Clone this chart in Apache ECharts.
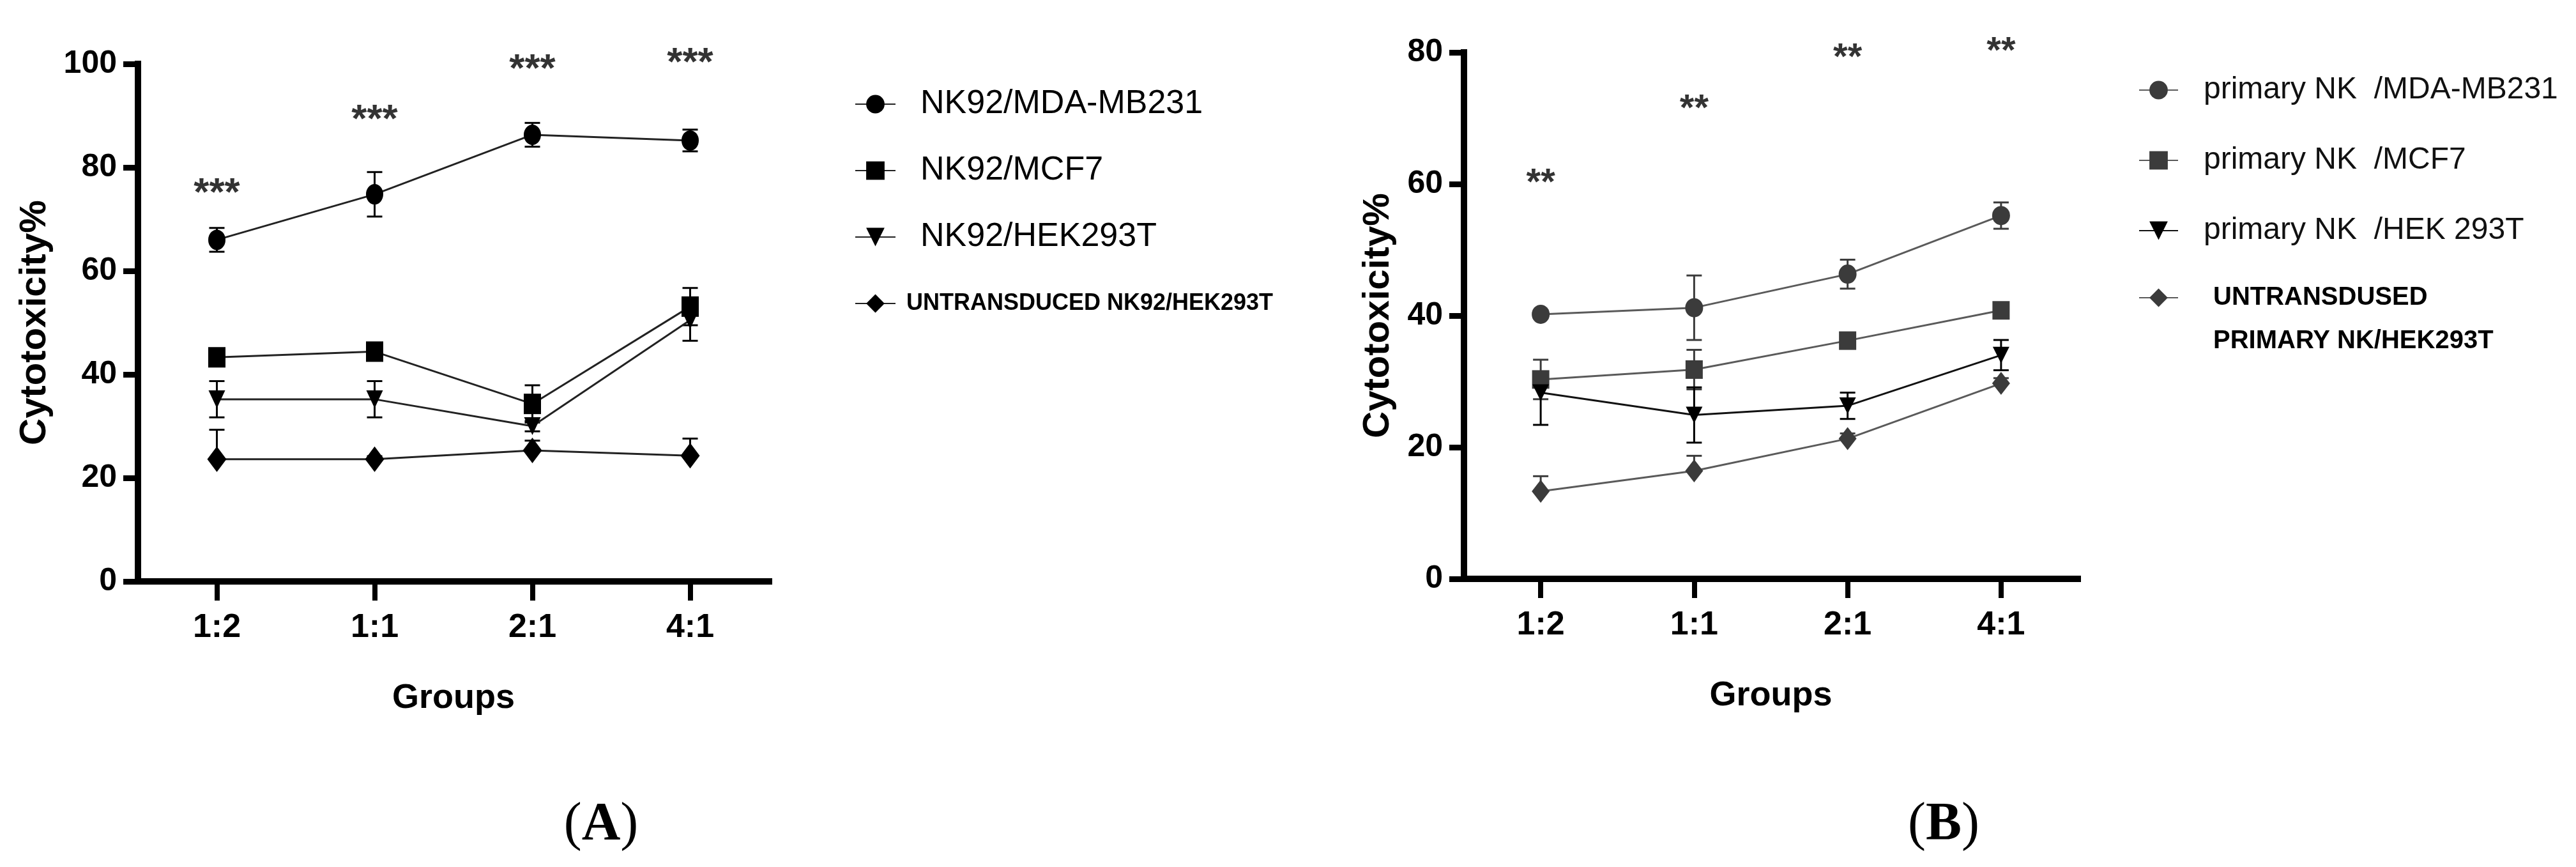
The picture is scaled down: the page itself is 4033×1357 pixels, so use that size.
<!DOCTYPE html>
<html>
<head>
<meta charset="utf-8">
<title>Cytotoxicity</title>
<script src="https://cdn.jsdelivr.net/npm/echarts@6/dist/echarts.min.js"></script>
<style>
  html, body { margin: 0; padding: 0; background: #fff; }
  #chart { width: 4033px; height: 1357px; }
</style>
</head>
<body>
<div id="chart"></div>
<script>
// effector : target ratios
const categories = ['1:2', '1:1', '2:1', '4:1']
const yTicksA = [0, 20, 40, 60, 80, 100]
const yTicksB = [0, 20, 40, 60, 80]

// panel A - NK92
const namesA = ['NK92/MDA-MB231', 'NK92/MCF7', 'NK92/HEK293T', 'UNTRANSDUCED NK92/HEK293T']
const a_mda = [66.0, 74.8, 86.3, 85.2]
const a_mda_up = [2.3, 4.3, 2.3, 2.1]
const a_mda_down = [2.3, 4.3, 2.3, 2.1]
const a_mcf7 = [43.3, 44.4, 34.3, 53.1]
const a_mcf7_up = [1.0, 0.6, 3.6, 3.6]
const a_mcf7_down = [1.0, 0.6, 3.6, 3.6]
const a_hek = [35.2, 35.2, 30.0, 50.5]
const a_hek_up = [3.5, 3.5, 1.0, 4.0]
const a_hek_down = [3.5, 3.5, 1.0, 4.0]
const a_untr = [23.6, 23.6, 25.3, 24.3]
const a_untr_up = [5.7, 0.6, 1.9, 3.3]
const a_untr_down = [0, 0, 0, 0]
const a_stars = [76.8, 91.0, 100.8, 102.0]

// panel B - primary NK
const namesB = ['primary NK  /MDA-MB231', 'primary NK  /MCF7', 'primary NK  /HEK 293T', 'UNTRANSDUSED\nPRIMARY NK/HEK293T']
const b_mda = [40.2, 41.2, 46.3, 55.2]
const b_mda_up = [0.6, 4.9, 2.2, 2.0]
const b_mda_down = [0.6, 4.9, 2.2, 2.0]
const b_mcf7 = [30.3, 31.8, 36.2, 40.8]
const b_mcf7_up = [3.0, 3.0, 0.8, 0.8]
const b_mcf7_down = [3.0, 3.0, 0.8, 0.8]
const b_hek = [28.3, 24.9, 26.3, 34.0]
const b_hek_up = [0.8, 4.2, 2.0, 2.3]
const b_hek_down = [4.9, 4.2, 2.0, 2.3]
const b_untr = [13.3, 16.4, 21.3, 29.7]
const b_untr_up = [2.3, 2.3, 0.8, 0.8]
const b_untr_down = [0, 0, 0, 0]
const b_stars = [61.5, 72.7, 80.5, 81.5]

const SANS = '"Liberation Sans", Arial, sans-serif'
const SERIF = '"Liberation Serif", "Times New Roman", serif'
const TRI_DOWN = 'path://M0,0L20,0L10,20Z'

const chart = echarts.init(document.getElementById('chart'))

// error bars drawn on the axes: [index, low, high, drawLowCap]
const errorBars = (idx, vals, up, down, color) => ({
  type: 'custom',
  xAxisIndex: idx,
  yAxisIndex: idx,
  z: 1,
  silent: true,
  clip: false,
  data: vals.map((v, i) => [i, v - down[i], v + up[i], down[i] > 0 ? 1 : 0]),
  encode: { x: 0, y: [1, 2] },
  renderItem: (params, api) => {
    const x = api.value(0)
    const lo = api.coord([x, api.value(1)])
    const hi = api.coord([x, api.value(2)])
    const half = 12
    const lines = [
      [hi[0], hi[1], lo[0], lo[1]],
      [hi[0] - half, hi[1], hi[0] + half, hi[1]]
    ]
    if (api.value(3)) lines.push([lo[0] - half, lo[1], lo[0] + half, lo[1]])
    return {
      type: 'group',
      children: lines.map(l => ({
        type: 'line',
        shape: { x1: l[0], y1: l[1], x2: l[2], y2: l[3] },
        style: { stroke: color, lineWidth: 3 }
      }))
    }
  }
})

const lineSeries = (idx, name, vals, symbol, size, color, lineColor) => ({
  type: 'line',
  name: name,
  xAxisIndex: idx,
  yAxisIndex: idx,
  data: vals,
  symbol: symbol,
  symbolSize: size,
  showSymbol: true,
  z: 3,
  itemStyle: { color: color, opacity: 1 },
  lineStyle: { color: lineColor, width: 3 },
  emphasis: { disabled: true }
})

const starSeries = (idx, vals, text, size) => ({
  type: 'scatter',
  xAxisIndex: idx,
  yAxisIndex: idx,
  data: vals.map((v, i) => [i, v]),
  symbolSize: 1,
  itemStyle: { color: 'rgba(0,0,0,0)' },
  clip: false,
  silent: true,
  z: 5,
  label: {
    show: true,
    position: 'inside',
    formatter: text,
    fontFamily: SANS,
    fontWeight: 'bold',
    fontSize: size,
    color: '#000',
    offset: [0, Math.round(size * 0.25)]
  }
})

const xAxisCfg = gridIndex => ({
  type: 'category',
  gridIndex: gridIndex,
  data: categories,
  boundaryGap: true,
  axisLine: { show: true, lineStyle: { color: '#000', width: 10, cap: 'square' } },
  axisTick: { show: true, alignWithLabel: true, length: 30, lineStyle: { color: '#000', width: 8 } },
  axisLabel: { color: '#000', fontFamily: SANS, fontWeight: 'bold', fontSize: 52, margin: 47 },
  splitLine: { show: false },
  name: 'Groups',
  nameLocation: 'middle',
  nameGap: 156,
  nameTextStyle: { color: '#000', fontFamily: SANS, fontWeight: 'bold', fontSize: 54 }
})

const yAxisCfg = (gridIndex, ticks, gap) => ({
  type: 'value',
  gridIndex: gridIndex,
  min: ticks[0],
  max: ticks[ticks.length - 1],
  interval: ticks[1] - ticks[0],
  axisLine: { show: true, lineStyle: { color: '#000', width: 10, cap: 'square' } },
  axisTick: { show: true, length: 23, lineStyle: { color: '#000', width: 9 } },
  axisLabel: { color: '#000', fontFamily: SANS, fontWeight: 'bold', fontSize: 50, margin: 33 },
  splitLine: { show: false },
  name: 'Cytotoxicity%',
  nameLocation: 'middle',
  nameRotate: 90,
  nameGap: gap,
  nameMoveOverlap: false,
  nameTextStyle: { color: '#000', fontFamily: SANS, fontWeight: 'bold', fontSize: 58 }
})

chart.setOption({
  animation: false,
  backgroundColor: '#fff',
  grid: [
    { left: 216, top: 100, width: 988, height: 810, containLabel: false, outerBoundsMode: 'none' },
    { left: 2292, top: 82, width: 961, height: 824, containLabel: false, outerBoundsMode: 'none' }
  ],
  xAxis: [xAxisCfg(0), xAxisCfg(1)],
  yAxis: [yAxisCfg(0, yTicksA, 132), yAxisCfg(1, yTicksB, 105)],
  legend: [
    {
      orient: 'vertical', left: 1338, top: 133, padding: 0,
      itemWidth: 63, itemHeight: 36, itemGap: 44, selectedMode: false,
      data: [
        { name: namesA[0] }, { name: namesA[1] }, { name: namesA[2] },
        { name: namesA[3], textStyle: { fontWeight: 'bold', fontSize: 36, padding: [0, 0, 0, 12] } }
      ],
      textStyle: { fontFamily: SANS, fontSize: 52, lineHeight: 60, color: '#000', padding: [0, 0, 0, 34] }
    },
    {
      orient: 'vertical', left: 3348, top: 108, padding: 0,
      itemWidth: 61, itemHeight: 36, itemGap: 44, selectedMode: false,
      data: namesB.slice(0, 3),
      textStyle: { fontFamily: SANS, fontSize: 48, lineHeight: 66, color: '#111', padding: [0, 0, 0, 35] }
    },
    {
      orient: 'vertical', left: 3348, top: 364, padding: 0,
      itemWidth: 61, itemHeight: 36, selectedMode: false,
      data: [namesB[3]],
      // blank first line puts the icon level with the first text line
      formatter: name => ' \n' + name,
      textStyle: { fontFamily: SANS, fontWeight: 'bold', fontSize: 40, lineHeight: 68, color: '#000', padding: [0, 0, 0, 50] }
    }
  ],
  graphic: [
    {
      type: 'text', x: 941, y: 1292,
      style: {
        text: '{p|(}{b|A}{p|)}', align: 'center', verticalAlign: 'middle',
        rich: { p: { fontFamily: SERIF, fontSize: 84, fill: '#000' }, b: { fontFamily: SERIF, fontWeight: 'bold', fontSize: 84, fill: '#000' } }
      }
    },
    {
      type: 'text', x: 3043, y: 1292,
      style: {
        text: '{p|(}{b|B}{p|)}', align: 'center', verticalAlign: 'middle',
        rich: { p: { fontFamily: SERIF, fontSize: 84, fill: '#000' }, b: { fontFamily: SERIF, fontWeight: 'bold', fontSize: 84, fill: '#000' } }
      }
    }
  ],
  series: [
    errorBars(0, a_mda, a_mda_up, a_mda_down, '#000'),
    errorBars(0, a_mcf7, a_mcf7_up, a_mcf7_down, '#000'),
    errorBars(0, a_hek, a_hek_up, a_hek_down, '#000'),
    errorBars(0, a_untr, a_untr_up, a_untr_down, '#000'),
    lineSeries(0, namesA[0], a_mda, 'circle', [27, 32], '#000', '#222'),
    lineSeries(0, namesA[1], a_mcf7, 'rect', [27, 32], '#000', '#222'),
    lineSeries(0, namesA[2], a_hek, TRI_DOWN, [26, 28], '#000', '#222'),
    lineSeries(0, namesA[3], a_untr, 'diamond', [30, 40], '#000', '#222'),
    starSeries(0, a_stars, '***', 62),

    errorBars(1, b_mda, b_mda_up, b_mda_down, '#3b3b3b'),
    errorBars(1, b_mcf7, b_mcf7_up, b_mcf7_down, '#3b3b3b'),
    errorBars(1, b_hek, b_hek_up, b_hek_down, '#000'),
    errorBars(1, b_untr, b_untr_up, b_untr_down, '#3b3b3b'),
    lineSeries(1, namesB[0], b_mda, 'circle', [28, 30], '#3b3b3b', '#5a5a5a'),
    lineSeries(1, namesB[1], b_mcf7, 'rect', [27, 29], '#3b3b3b', '#5a5a5a'),
    lineSeries(1, namesB[2], b_hek, TRI_DOWN, [26, 26], '#000', '#111'),
    lineSeries(1, namesB[3], b_untr, 'diamond', [28, 36], '#3b3b3b', '#5a5a5a'),
    starSeries(1, b_stars, '**', 58)
  ]
})
</script>
</body>
</html>
